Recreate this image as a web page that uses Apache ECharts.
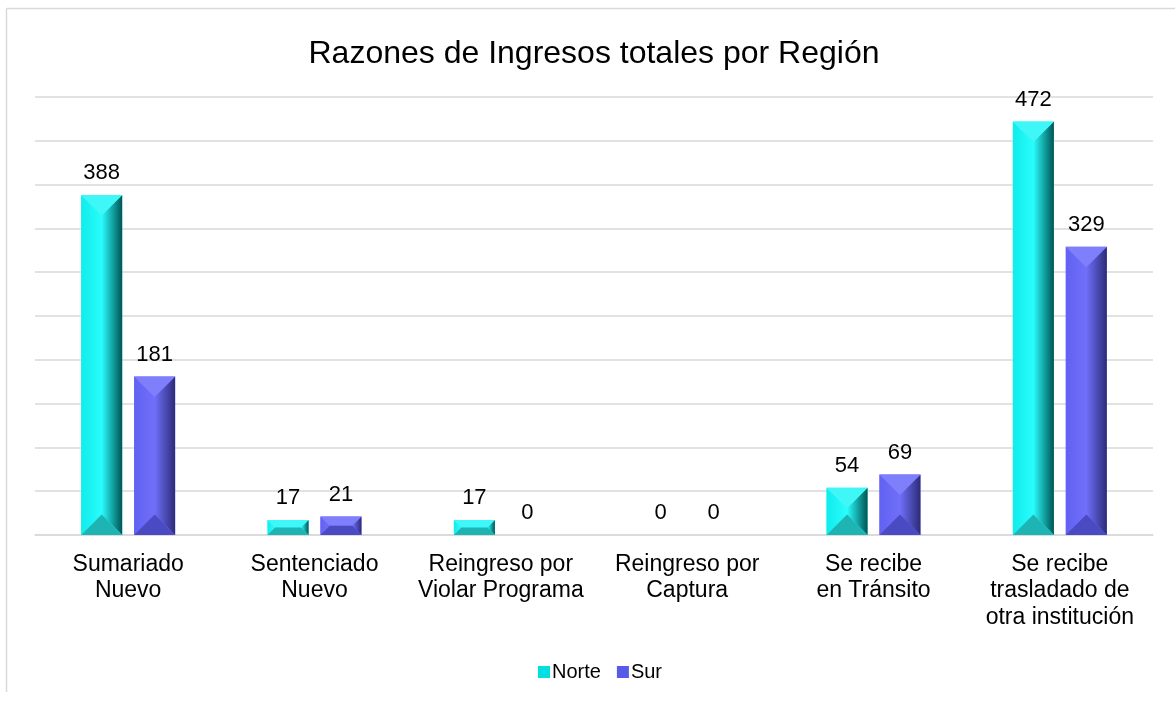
<!DOCTYPE html>
<html>
<head>
<meta charset="utf-8">
<script src="https://cdn.jsdelivr.net/npm/echarts@6/dist/echarts.min.js"></script>
<style>
html, body { margin: 0; padding: 0; background: #fff; }
#main { width: 1175px; height: 702px; }
</style>
</head>
<body>
<div id="main"></div>
<script>
const categories = ['Sumariado\nNuevo', 'Sentenciado\nNuevo', 'Reingreso por\nViolar Programa', 'Reingreso por\nCaptura', 'Se recibe\nen Tránsito', 'Se recibe\ntrasladado de\notra institución'];
const norte = [388, 17, 17, 0, 54, 472];
const sur = [181, 21, 0, 0, 69, 329];

const palettes = {
  Norte: { top: '#3ff7f7', left: '#10ecec', mid: '#2afcfc', right: '#005454', bottom: '#1eb4b4', icon: '#00e0e0' },
  Sur: { top: '#7f7ffc', left: '#6262f2', mid: '#6f6ffa', right: '#2c2c78', bottom: '#4a4ac2', icon: '#5a5ae8' }
};

// bevelled bar, shifted left or right inside the category band
const bevelBar = (name, shift) => (params, api) => {
  const c = palettes[name];
  const cat = api.value(0);
  const val = api.value(1);
  const band = api.size([1, 0])[0];
  const w = band * 0.22;
  const base = api.coord([cat, 0]);
  const top = api.coord([cat, val]);
  const cx = base[0] + band * 0.142 * shift;
  const x0 = cx - w / 2;
  const x1 = cx + w / 2;
  const y0 = top[1];
  const y1 = base[1];
  const h = y1 - y0;
  const children = [];
  if (h > 0.5) {
    const d = Math.min(w, h) / 2;
    const ix0 = x0 + d, ix1 = x1 - d, iy0 = y0 + d, iy1 = y1 - d;
    children.push({
      type: 'rect',
      shape: { x: x0, y: y0, width: w, height: h },
      style: { fill: c.mid }
    });
    children.push({
      type: 'polygon',
      shape: { points: [[x0, y0], [ix0, iy0], [ix0, iy1], [x0, y1]] },
      style: { fill: new echarts.graphic.LinearGradient(0, 0, 1, 0, [{ offset: 0, color: c.left }, { offset: 1, color: c.mid }]) }
    });
    children.push({
      type: 'polygon',
      shape: { points: [[x1, y0], [ix1, iy0], [ix1, iy1], [x1, y1]] },
      style: { fill: new echarts.graphic.LinearGradient(0, 0, 1, 0, [{ offset: 0, color: c.mid }, { offset: 1, color: c.right }]) }
    });
    children.push({
      type: 'polygon',
      shape: { points: [[x0, y0], [x1, y0], [ix1, iy0], [ix0, iy0]] },
      style: { fill: c.top }
    });
    children.push({
      type: 'polygon',
      shape: { points: [[x0, y1], [x1, y1], [ix1, iy1], [ix0, iy1]] },
      style: { fill: c.bottom }
    });
  }
  children.push({
    type: 'text',
    style: {
      text: String(val), x: cx, y: y0 - 22,
      align: 'center', verticalAlign: 'middle',
      font: '22px "Liberation Sans", Arial, sans-serif', fill: '#000'
    }
  });
  return { type: 'group', children };
};

const chart = echarts.init(document.getElementById('main'));
chart.setOption({
  animation: false,
  backgroundColor: '#fff',
  title: {
    text: 'Razones de Ingresos totales por Región',
    left: 589, top: 33, textAlign: 'center',
    textStyle: { fontFamily: '"Liberation Sans", Arial', fontSize: 32, fontWeight: 'normal', color: '#000' }
  },
  graphic: [
    { type: 'line', shape: { x1: 6.5, y1: 8.5, x2: 1175, y2: 8.5 }, style: { stroke: '#d9d9d9', lineWidth: 1.5 } },
    { type: 'line', shape: { x1: 6.5, y1: 8.5, x2: 6.5, y2: 692 }, style: { stroke: '#d9d9d9', lineWidth: 1.5 } }
  ],
  legend: {
    left: 533, top: 657,
    itemWidth: 12, itemHeight: 12, itemGap: 16,
    textStyle: { fontFamily: '"Liberation Sans", Arial', fontSize: 20, color: '#000', padding: [0, 0, 0, -3] },
    data: [
      { name: 'Norte', icon: 'rect', itemStyle: { color: palettes.Norte.icon } },
      { name: 'Sur', icon: 'rect', itemStyle: { color: palettes.Sur.icon } }
    ]
  },
  grid: { left: 35, right: 22, top: 97, bottom: 167 },
  xAxis: {
    type: 'category',
    data: categories,
    axisLine: { show: true, lineStyle: { color: '#d9d9d9', width: 1.5 } },
    axisTick: { show: false },
    axisLabel: {
      interval: 0, margin: 16, color: '#000',
      fontFamily: '"Liberation Sans", Arial', fontSize: 23, lineHeight: 26.5
    }
  },
  yAxis: {
    type: 'value', min: 0, max: 500, interval: 50,
    axisLabel: { show: false },
    axisLine: { show: false },
    axisTick: { show: false },
    splitLine: { lineStyle: { color: '#d9d9d9', width: 1.5 } }
  },
  series: [
    { name: 'Norte', type: 'custom', renderItem: bevelBar('Norte', -1), data: norte.map((v, i) => [i, v]), itemStyle: { color: palettes.Norte.icon } },
    { name: 'Sur', type: 'custom', renderItem: bevelBar('Sur', 1), data: sur.map((v, i) => [i, v]), itemStyle: { color: palettes.Sur.icon } }
  ]
});
</script>
</body>
</html>
